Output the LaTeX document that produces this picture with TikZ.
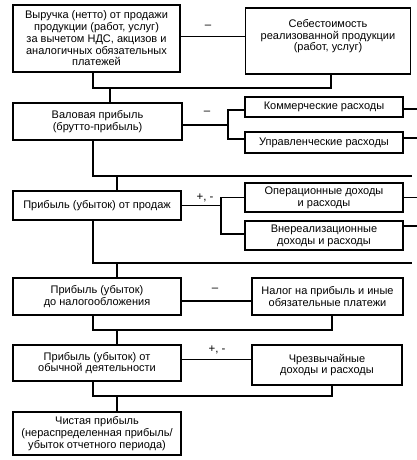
\documentclass[tikz,border=0pt]{standalone}
\usepackage{fontspec}
\setmainfont{Liberation Sans}
\begin{document}
\begin{tikzpicture}[x=1pt,y=-1pt,line width=1.1pt,
  box/.style={draw,inner sep=1pt,align=center,font=\fontsize{11}{11.75}\selectfont},
  sign/.style={inner sep=0pt,font=\fontsize{11.5}{12}\selectfont}]
\useasboundingbox (0,0) rectangle (417,460);
% boxes
\node[box,minimum width=167,minimum height=67] (b1) at (96.5,38.5) {Выручка (нетто) от продажи\\продукции (работ, услуг)\\за вычетом НДС, акцизов и\\аналогичных обязательных\\платежей};
\node[box,minimum width=165,minimum height=66] (b2) at (328,41) {Себестоимость\\реализованной продукции\\(работ, услуг)\\\mbox{}};
\node[box,minimum width=169,minimum height=37] (b3) at (97.5,121.5) {Валовая прибыль\\(брутто-прибыль)};
\node[box,minimum width=158,minimum height=20] (comm) at (324,107) {Коммерческие расходы};
\node[box,minimum width=158,minimum height=21] (upr) at (324,142.5) {Управленческие расходы};
\node[box,minimum width=168,minimum height=29] (b4) at (97,205.5) {Прибыль (убыток) от продаж};
\node[box,minimum width=158,minimum height=29] (oper) at (324,197.5) {Операционные доходы\\и расходы};
\node[box,minimum width=158,minimum height=29] (vne) at (324,235.5) {Внереализационные\\доходы и расходы};
\node[box,minimum width=168,minimum height=37] (b5) at (97,296.5) {Прибыль (убыток)\\до налогообложения};
\node[box,minimum width=151,minimum height=37] (nal) at (327.5,296.5) {Налог на прибыль и иные\\обязательные платежи};
\node[box,minimum width=168,minimum height=36] (b6) at (97,363) {Прибыль (убыток) от\\обычной деятельности};
\node[box,minimum width=150,minimum height=40] (chr) at (327,365) {Чрезвычайные\\доходы и расходы};
\node[box,minimum width=168,minimum height=43] (b7) at (97,433.5) {Чистая прибыль\\(нераспределенная прибыль/\\убыток отчетного периода)};
% signs
\node[sign] (s1) at (208,27) {–};
\node[sign] (s2) at (207,113) {–};
\node[sign] (s3) at (205,198) {+, -};
\node[sign] (s4) at (215,290) {–};
\node[sign] (s5) at (217,350) {+, -};
% coordinates
\coordinate (m1) at (331,88);
\coordinate (d1) at (110,88);
\coordinate (br1) at (228,125);
\coordinate (m2) at (412,176);
\coordinate (d2) at (117,176);
\coordinate (br2) at (221,206);
\coordinate (m3) at (412,263);
\coordinate (d3) at (117,263);
\coordinate (m4) at (332,330);
\coordinate (d4) at (117,330);
\coordinate (m5) at (332,396);
\coordinate (d5) at (117,396);
% connectors
\draw ([yshift=2pt]b1.east) -- ([yshift=2pt]b1.east -| b2.west);
\draw ([xshift=-3.5pt]b1.south) |- (m1) -- (m1 |- b2.south);
\draw (d1) -- (d1 |- b3.north);
\draw ([yshift=-3.5pt]b3.east) -- (br1);
\draw ([yshift=-3pt]comm.west) -| (br1) |- ([yshift=3.5pt]upr.west);
\draw ([yshift=-2pt]comm.east) -- ++(15,0);
\draw ([yshift=4.5pt]upr.east) -- ++(15,0);
\draw ([xshift=-4.5pt]b3.south) |- (m2);
\draw (d2) -- (d2 |- b4.north);
\draw (b4.east) -- (b4.east -| br2);
\draw (oper.west) -| (br2) |- ([yshift=1.5pt]vne.west);
\draw (oper.east) -- ++(15,0);
\draw ([yshift=9.5pt]vne.east) -- ++(15,0);
\draw ([xshift=-4pt]b4.south) |- (m3);
\draw (d3) -- (d3 |- b5.north);
\draw ([yshift=-4.5pt]b5.east) -- ([yshift=-4.5pt]b5.east -| nal.west);
\draw ([xshift=-4pt]b5.south) |- (m4) -- (m4 |- nal.south);
\draw (d4) -- (d4 |- b6.north);
\draw ([yshift=3.5pt]b6.east) -- ([yshift=3.5pt]b6.east -| chr.west);
\draw ([xshift=-4pt]b6.south) |- (m5) -- (m5 |- chr.south);
\draw (d5) -- (d5 |- b7.north);
\end{tikzpicture}
\end{document}
